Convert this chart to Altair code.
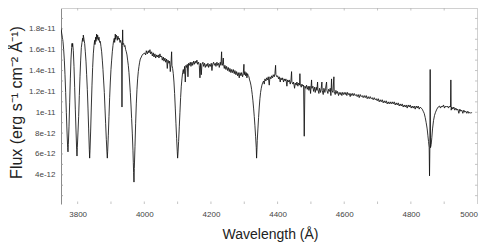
import altair as alt
import pandas as pd

# Spectrum: (wavelength in Angstrom, flux in units of 1e-12 erg/s/cm2/A)
balmer = [
    (3750, 18.1), (3752, 17.6), (3754, 17.2), (3756, 16.8), (3758, 16.0), (3760, 15.0), (3762, 13.6),
    (3764, 11.9), (3766, 10.0), (3768, 8.2), (3770, 6.6), (3771, 6.2), (3772, 6.9), (3774, 8.6),
    (3776, 10.9), (3778, 13.2), (3780, 15.1), (3782, 16.2), (3783, 16.6), (3784, 16.3), (3785, 16.6),
    (3787, 15.9), (3789, 14.4), (3791, 12.4), (3793, 10.3), (3795, 8.3), (3797, 6.4), (3798, 5.8),
    (3799, 6.6), (3801, 8.1), (3803, 9.6), (3805, 11.6), (3807, 13.4), (3809, 15.0), (3811, 16.2),
    (3813, 16.7), (3815, 17.1), (3816, 16.8), (3817, 17.4), (3819, 17.0), (3821, 16.6), (3823, 15.8),
    (3825, 14.9), (3827, 13.6), (3829, 12.2), (3831, 10.4), (3833, 8.4), (3835, 6.4), (3836, 5.6),
    (3837, 6.3), (3839, 8.2), (3841, 10.5), (3843, 12.6), (3845, 14.3), (3847, 15.6), (3849, 16.4),
    (3851, 16.9), (3852, 16.5), (3854, 17.2), (3855, 16.8), (3857, 17.5), (3858, 17.0), (3860, 17.4),
    (3862, 16.9), (3864, 17.2), (3866, 16.7), (3868, 16.8), (3870, 16.3), (3872, 15.8), (3874, 15.0),
    (3876, 14.1), (3878, 13.0), (3880, 11.9), (3882, 10.4), (3884, 8.9), (3886, 7.4), (3888, 6.1),
    (3889, 5.6), (3890, 6.2), (3892, 7.8), (3894, 9.6), (3896, 11.4), (3898, 12.9), (3900, 14.1),
    (3902, 15.0), (3904, 15.8), (3906, 16.4), (3908, 16.9), (3910, 17.1), (3911, 16.7), (3913, 17.5),
    (3914, 17.0), (3916, 17.4), (3918, 17.2), (3919, 16.9), (3921, 17.3), (3923, 17.0), (3925, 17.1),
    (3927, 16.7), (3929, 16.9), (3931, 16.6), (3932, 16.6), (3933, 10.5), (3934, 16.4), (3935, 17.9),
    (3936, 16.5), (3938, 16.6), (3940, 16.3), (3942, 16.4), (3944, 16.0), (3946, 15.8), (3948, 15.5),
    (3950, 15.0), (3952, 14.5), (3954, 13.8), (3956, 12.9), (3958, 11.9), (3960, 10.7), (3962, 9.4),
    (3964, 8.0), (3966, 6.3), (3967, 5.2), (3968, 4.2), (3969, 3.3), (3970, 4.6), (3972, 6.7),
    (3974, 8.9), (3976, 10.8), (3978, 12.2), (3980, 13.2), (3982, 13.9), (3984, 14.4), (3986, 14.8),
    (3988, 15.1), (3991, 15.3), (3994, 15.5), (3997, 15.6), (3999, 15.6),
]

blue = [
    (4001, 15.7), (4004, 15.5), (4006, 15.9), (4009, 15.6), (4012, 15.9), (4014, 15.7), (4017, 16.0),
    (4019, 15.6), (4022, 15.8), (4024, 15.4), (4027, 15.7), (4029, 15.3), (4032, 15.6), (4034, 15.2),
    (4037, 15.5), (4039, 15.3), (4042, 15.5), (4044, 15.2), (4047, 15.6), (4049, 15.3), (4052, 15.4),
    (4054, 15.0), (4057, 15.3), (4059, 14.9), (4062, 15.2), (4064, 14.8), (4067, 15.1), (4069, 14.2),
    (4071, 15.0), (4074, 14.7), (4076, 14.9), (4078, 13.9), (4080, 14.6), (4082, 15.8), (4083, 14.5),
    (4085, 14.2), (4087, 13.7), (4089, 12.9), (4091, 11.8), (4093, 10.4), (4095, 8.9), (4097, 7.5),
    (4099, 6.2), (4100, 5.6), (4101, 6.0), (4103, 7.2), (4105, 8.6), (4107, 10.0), (4109, 11.4),
    (4111, 12.5), (4113, 13.2), (4115, 13.8), (4117, 14.1), (4119, 13.7), (4121, 14.4), (4123, 12.9),
    (4125, 14.5), (4127, 14.3), (4129, 14.6), (4131, 13.4), (4133, 14.7), (4135, 14.5), (4138, 14.8),
    (4140, 14.4), (4143, 14.8), (4145, 14.5), (4148, 14.9), (4150, 14.6), (4153, 14.9), (4155, 14.7),
    (4158, 15.0), (4160, 14.6), (4163, 14.8), (4165, 14.5), (4167, 13.3), (4169, 14.7), (4171, 13.6),
    (4173, 14.6), (4176, 14.8), (4178, 14.4), (4181, 14.7), (4183, 14.3), (4186, 14.6), (4188, 14.4),
    (4191, 14.7), (4193, 14.3), (4196, 14.6), (4198, 14.4), (4201, 14.7), (4203, 14.0), (4205, 14.6),
    (4208, 14.8), (4210, 14.5), (4213, 14.7), (4215, 14.4), (4218, 14.8), (4220, 14.5), (4223, 14.7),
    (4225, 14.3), (4228, 14.8), (4230, 14.5), (4232, 15.8), (4233, 14.7), (4235, 14.5), (4237, 15.2),
    (4238, 14.6), (4240, 14.2), (4242, 14.5), (4245, 14.1), (4247, 14.4), (4250, 14.0), (4252, 14.3),
    (4255, 13.9), (4257, 14.2), (4260, 13.8), (4262, 14.1), (4265, 13.8), (4267, 14.1), (4270, 13.7),
    (4272, 14.0), (4275, 13.6), (4277, 13.9), (4280, 13.5), (4282, 13.8), (4285, 13.3), (4287, 13.8),
    (4290, 13.5), (4292, 13.8), (4295, 13.4), (4297, 13.7), (4299, 14.6), (4300, 13.6),
]

mid = [
    (4302, 13.9), (4304, 13.5), (4306, 13.8), (4308, 13.3), (4310, 13.7), (4312, 13.5), (4314, 13.4),
    (4316, 13.1), (4318, 12.9), (4320, 12.6), (4322, 12.2), (4324, 11.7), (4326, 11.1), (4328, 10.4),
    (4330, 9.6), (4332, 8.7), (4334, 7.7), (4336, 6.6), (4337, 5.6), (4338, 6.4), (4339, 7.3),
    (4341, 8.4), (4343, 9.5), (4345, 10.5), (4347, 11.3), (4349, 11.9), (4351, 12.3), (4353, 12.6),
    (4355, 12.8), (4358, 13.0), (4360, 12.7), (4362, 13.2), (4365, 13.0), (4367, 13.3), (4370, 13.1),
    (4372, 13.4), (4375, 12.6), (4377, 13.4), (4380, 13.2), (4382, 13.5), (4385, 13.3), (4387, 13.6),
    (4390, 13.4), (4392, 13.7), (4394, 14.5), (4395, 13.6), (4398, 13.4), (4400, 13.5), (4403, 13.2),
    (4405, 13.4), (4408, 12.9), (4410, 13.3), (4413, 13.1), (4415, 13.3), (4418, 12.9), (4420, 13.2),
    (4423, 13.0), (4425, 13.2), (4428, 12.5), (4430, 13.1), (4433, 12.9), (4435, 13.1), (4438, 12.7),
    (4440, 13.0), (4442, 13.9), (4443, 12.9), (4446, 12.7), (4448, 12.9), (4451, 12.3), (4453, 12.8),
    (4456, 12.6), (4458, 12.9), (4461, 12.5), (4463, 12.8), (4466, 12.6), (4467, 13.7), (4468, 12.7),
    (4471, 12.4), (4473, 12.7), (4476, 12.5), (4478, 12.6), (4480, 7.7), (4482, 12.5), (4484, 12.3),
    (4487, 12.6), (4489, 12.2), (4492, 12.5), (4494, 12.1), (4497, 12.5), (4499, 11.8), (4502, 13.1),
    (4503, 12.3), (4506, 12.5), (4508, 12.0), (4511, 12.4), (4513, 11.9), (4516, 12.4), (4518, 12.1),
    (4520, 12.9), (4521, 12.2), (4524, 11.8), (4526, 12.3), (4529, 11.9), (4531, 12.3), (4533, 12.9),
    (4534, 12.1), (4537, 11.7), (4539, 12.3), (4542, 11.9), (4544, 12.3), (4547, 12.9), (4548, 12.1),
    (4551, 11.8), (4553, 12.2), (4556, 12.0), (4558, 12.3), (4560, 11.6), (4562, 13.2), (4563, 12.1),
    (4566, 11.9), (4569, 13.4), (4570, 12.0), (4573, 11.7), (4575, 12.1), (4578, 11.8), (4580, 12.0),
    (4583, 11.6), (4585, 11.9), (4588, 11.7), (4590, 11.9), (4593, 11.6), (4595, 11.9), (4598, 11.7),
    (4600, 11.9), (4603, 11.7), (4605, 11.9), (4608, 11.6), (4610, 11.9), (4613, 11.7), (4615, 11.8),
    (4618, 11.5), (4620, 11.8), (4623, 11.6), (4625, 11.8), (4628, 11.6),
]

red = [
    (4630, 11.8), (4633, 11.6), (4636, 11.7), (4639, 11.5), (4642, 11.7), (4645, 11.4), (4648, 11.7),
    (4651, 11.5), (4654, 11.6), (4657, 11.4), (4660, 11.6), (4663, 11.4), (4666, 11.6), (4669, 11.3),
    (4672, 11.5), (4675, 11.3), (4678, 11.5), (4681, 11.3), (4684, 11.4), (4687, 11.2), (4690, 11.4),
    (4693, 11.2), (4696, 11.3), (4699, 11.1), (4702, 11.3), (4705, 11.0), (4708, 11.2), (4711, 11.0),
    (4714, 11.2), (4717, 10.9), (4720, 11.1), (4723, 10.9), (4726, 11.1), (4729, 10.8), (4732, 11.0),
    (4735, 10.8), (4738, 11.0), (4741, 10.8), (4744, 11.0), (4747, 10.8), (4750, 11.0), (4753, 10.7),
    (4756, 10.9), (4759, 10.7), (4762, 10.9), (4765, 10.6), (4768, 10.8), (4771, 10.6), (4774, 10.8),
    (4777, 10.5), (4780, 10.7), (4783, 10.5), (4786, 10.7), (4789, 10.4), (4792, 10.7), (4795, 10.5),
    (4798, 10.7), (4801, 10.4), (4804, 10.6), (4807, 10.4), (4810, 10.6), (4813, 10.3), (4816, 10.6),
    (4819, 10.4), (4822, 10.6), (4825, 10.3), (4828, 10.5), (4831, 10.4), (4834, 10.3), (4837, 10.1),
    (4840, 9.9), (4843, 9.5), (4846, 9.0), (4849, 8.4), (4851, 7.8), (4853, 7.2), (4855, 6.6),
    (4856, 3.9), (4857, 6.4), (4858, 14.1), (4859, 6.6), (4861, 6.9), (4863, 7.6), (4865, 8.4),
    (4868, 9.2), (4871, 9.7), (4874, 10.0), (4878, 10.3), (4882, 10.5), (4886, 10.6), (4889, 10.4),
    (4892, 10.6), (4895, 10.5), (4898, 10.7), (4901, 10.4), (4904, 10.6), (4907, 10.5), (4910, 10.6),
    (4913, 10.4), (4916, 10.6), (4919, 10.5), (4920, 13.1), (4921, 10.2), (4923, 10.5), (4926, 10.3),
    (4929, 10.5), (4932, 10.2), (4935, 10.4), (4938, 10.2), (4941, 10.3), (4944, 9.9), (4947, 10.3),
    (4950, 10.1), (4953, 10.2), (4956, 9.9), (4959, 10.2), (4962, 10.0), (4965, 10.1), (4968, 9.9),
    (4971, 10.1), (4974, 9.9), (4977, 10.0), (4980, 9.9), (4983, 10.0),
]

x_label_values = [3800, 4000, 4200, 4400, 4600, 4800, 5000]
y_label_values = [4e-12, 6e-12, 8e-12, 1e-11, 1.2e-11, 1.4e-11, 1.6e-11, 1.8e-11]
x_tick_values = [3800, 3900, 4000, 4100, 4200, 4300, 4400, 4500, 4600, 4700, 4800, 4900]
y_tick_values = [2e-12, 3e-12, 4e-12, 5e-12, 6e-12, 7e-12, 8e-12, 9e-12, 1e-11, 1.1e-11,
                 1.2e-11, 1.3e-11, 1.4e-11, 1.5e-11, 1.6e-11, 1.7e-11, 1.8e-11, 1.9e-11]

rows = []
for seg in (balmer, blue, mid, red):
    for w, f in seg:
        rows.append({"wl": w, "flux": f * 1e-12})
df = pd.DataFrame(rows).drop_duplicates("wl")

W, H = 416.5, 196
xscale = alt.Scale(domain=[3750, 5000], nice=False, zero=False)
yscale = alt.Scale(domain=[1.2e-12, 2.0e-11], nice=False, zero=False)

TICK_FONT = "Liberation Sans"
TITLE_FONT = "Liberation Sans"

x_axis = alt.Axis(
    values=x_label_values, format="d", ticks=False, tickSize=0, domain=False, grid=False,
    labelFont=TICK_FONT, labelFontSize=8, labelColor="#444", labelPadding=6,
    title="Wavelength (Å)", titleFont=TITLE_FONT, titleFontSize=14,
    titleFontWeight="normal", titleColor="#222", titleBaseline="alphabetic",
    titleX=209, titleY=34)
y_axis = alt.Axis(
    values=y_label_values, format="~e", ticks=False, tickSize=0, domain=True,
    domainColor="#8a8a8a", domainWidth=1, grid=False,
    labelFont=TICK_FONT, labelFontSize=8, labelColor="#444", labelPadding=6,
    title="Flux (erg s⁻¹ cm⁻² Å⁻¹)", titleFont=TITLE_FONT, titleFontSize=16,
    titleFontWeight="normal", titleColor="#222", titleX=-37, titleY=94)

spectrum = alt.Chart(df).mark_line(color="#111", strokeWidth=0.85, clip=True).encode(
    x=alt.X("wl:Q", scale=xscale, axis=x_axis),
    y=alt.Y("flux:Q", scale=yscale, axis=y_axis),
)

xt = pd.DataFrame({"w": x_tick_values})
yt = pd.DataFrame({"v": y_tick_values})
tick_color = "#b5b5b5"

bottom_ticks = alt.Chart(xt).mark_rule(color=tick_color, strokeWidth=0.8).encode(
    x=alt.X("w:Q", scale=xscale, axis=x_axis), y=alt.value(H), y2=alt.value(H - 2.5))
top_ticks = alt.Chart(xt).mark_rule(color=tick_color, strokeWidth=0.8).encode(
    x=alt.X("w:Q", scale=xscale, axis=x_axis), y=alt.value(0), y2=alt.value(2.5))
left_ticks = alt.Chart(yt).mark_rule(color="#999", strokeWidth=0.8).encode(
    y=alt.Y("v:Q", scale=yscale, axis=y_axis), x=alt.value(0), x2=alt.value(2))
right_ticks = alt.Chart(yt).mark_rule(color=tick_color, strokeWidth=0.8).encode(
    y=alt.Y("v:Q", scale=yscale, axis=y_axis), x=alt.value(W - 2.5), x2=alt.value(W))

frame_top = alt.Chart(xt).mark_rule(color="#d0d0d0", strokeWidth=1).encode(
    x=alt.value(0), x2=alt.value(W), y=alt.value(0))
frame_right = alt.Chart(xt).mark_rule(color="#d0d0d0", strokeWidth=1).encode(
    x=alt.value(W), y=alt.value(0), y2=alt.value(H))

chart = alt.layer(
    spectrum, frame_top, frame_right, bottom_ticks, top_ticks, left_ticks, right_ticks
).properties(
    width=W, height=H,
    autosize=alt.AutoSizeParams(type="none"),
    padding={"left": 53, "top": 0, "right": 10, "bottom": 45},
    background="white",
).configure_view(stroke=None)

chart.save("out.html", embed_options={"renderer": "svg", "actions": False})
